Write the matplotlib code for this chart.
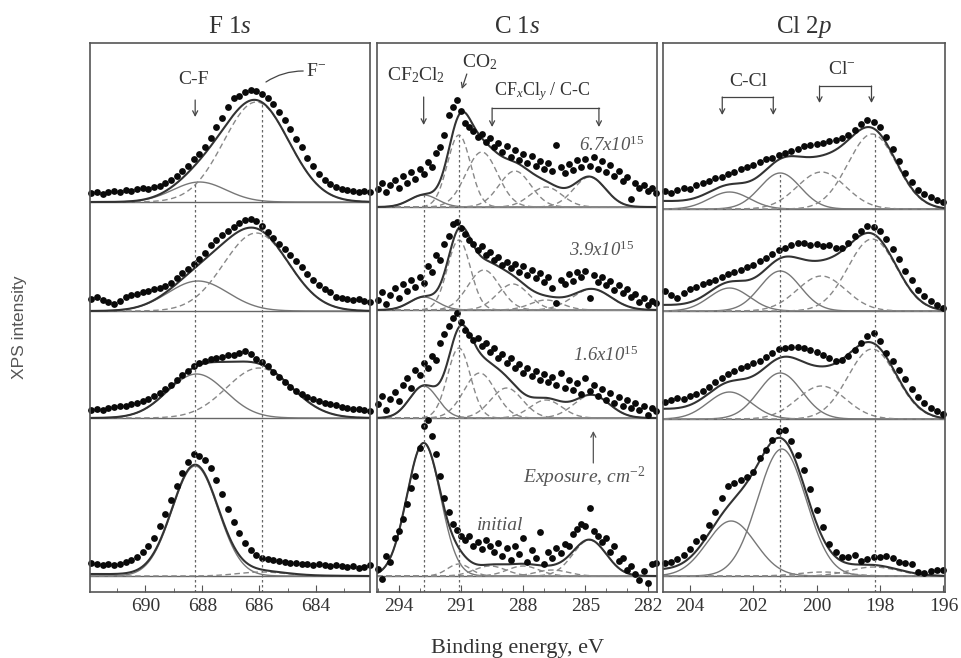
import numpy as np
import matplotlib.pyplot as plt

plt.rcParams['font.family'] = ['Liberation Serif', 'DejaVu Serif']
plt.rcParams['mathtext.fontset'] = 'custom'
plt.rcParams['mathtext.rm'] = 'Liberation Serif'
plt.rcParams['mathtext.it'] = 'Liberation Serif:italic'
plt.rcParams['mathtext.bf'] = 'Liberation Serif:bold'

# ---------------- data (intensity above each spectrum's baseline, arb. units) ----------------
exposures = ['6.7x10$^{15}$', '3.9x10$^{15}$', '1.6x10$^{15}$', 'initial']

# F 1s
f_energy = np.linspace(691.9, 682.1, 50)
f_counts = [
    [9, 10, 8, 10, 11, 10, 12, 11, 13, 14, 13, 15, 16, 19, 22, 26, 31, 36, 43, 48,
     55, 64, 75, 84, 95, 104, 106, 110, 112, 111, 108, 104, 98, 90, 82, 73, 63, 55, 44, 36,
     28, 22, 18, 15, 13, 12, 11, 10, 11, 10],
    [12, 14, 11, 9, 7, 10, 14, 16, 17, 19, 20, 22, 23, 25, 28, 33, 38, 42, 47, 52,
     58, 66, 71, 76, 80, 84, 88, 91, 92, 90, 85, 79, 73, 67, 62, 56, 50, 44, 37, 31,
     26, 22, 19, 14, 13, 12, 11, 12, 10, 9],
    [8, 9, 8, 10, 11, 12, 12, 14, 15, 17, 19, 22, 25, 29, 33, 38, 43, 47, 52, 55,
     57, 59, 60, 61, 63, 63, 65, 67, 64, 59, 56, 52, 46, 41, 36, 31, 27, 24, 21, 19,
     17, 15, 14, 13, 11, 10, 9, 9, 8, 7],
    [13, 12, 11, 12, 11, 12, 14, 16, 19, 24, 30, 38, 50, 62, 76, 90, 103, 114, 122, 120,
     116, 108, 96, 82, 67, 54, 43, 33, 26, 21, 18, 17, 16, 15, 14, 13, 13, 12, 12, 11,
     12, 11, 10, 11, 10, 9, 10, 8, 9, 11],
]
f_solid = [True, False]                 # C-F, F-
f_centers = [[688.1, 686.1], [688.15, 686.1], [688.2, 686.0], [688.25, 685.9]]
f_fwhm = [[2.2, 2.7], [2.5, 2.7], [2.4, 2.7], [1.9, 2.0]]
f_heights = [[20, 100], [30, 78], [44, 50], [110, 4]]
f_bg = [0, 0, 0, 2]
f_marks = [688.25, 685.9]

# C 1s
c_energy = np.linspace(295.0, 281.6, 68)
c_counts = [
    [18, 24, 15, 22, 27, 19, 31, 24, 35, 28, 38, 33, 45, 40, 54, 60, 72, 92, 100, 107,
     96, 84, 80, 76, 70, 73, 65, 69, 60, 64, 55, 61, 50, 57, 47, 53, 44, 51, 41, 46,
     38, 44, 36, 62, 40, 34, 43, 37, 47, 40, 48, 41, 50, 38, 46, 35, 42, 31, 36, 26,
     30, 8, 24, 19, 22, 16, 19, 14],
    [10, 18, 6, 15, 22, 12, 26, 19, 30, 23, 33, 27, 44, 38, 55, 50, 66, 74, 86, 88,
     82, 76, 70, 66, 60, 64, 55, 58, 50, 53, 45, 48, 42, 46, 38, 44, 35, 40, 32, 37,
     28, 33, 22, 7, 30, 26, 36, 29, 38, 33, 39, 12, 35, 28, 33, 25, 29, 20, 25, 17,
     21, 13, 16, 8, 12, 5, 9, 7],
    [14, 22, 8, 19, 26, 17, 33, 40, 30, 48, 43, 55, 50, 62, 58, 75, 84, 92, 100, 105,
     96, 88, 83, 78, 80, 72, 75, 66, 70, 60, 64, 55, 60, 50, 54, 45, 50, 42, 47, 38,
     44, 36, 41, 33, 45, 30, 38, 28, 35, 24, 40, 27, 33, 22, 29, 18, 25, 15, 21, 12,
     18, 10, 15, 8, 12, 3, 10, 7],
    [7, -3, 20, 14, 38, 45, 57, 72, 88, 100, 128, 150, 156, 140, 122, 100, 78, 64, 52, 46,
     40, 36, 40, 30, 34, 27, 36, 30, 24, 33, 20, 28, 16, 30, 22, 38, 14, 26, 18, 44,
     12, 24, 18, 28, 23, 32, 30, 42, 47, 52, 50, 68, 45, 40, 34, 38, 24, 30, 15, 18,
     6, 10, 2, -4, 5, -7, 12, 13],
]
c_solid = [True, False, False, False, False, False]   # CF2Cl2, CO2, CFxCly / C-C
c_centers = [[292.8, 291.1, 290.0, 288.4, 286.9, 284.8],
             [292.8, 291.1, 289.9, 288.5, 286.9, 284.7],
             [292.8, 291.1, 290.1, 288.8, 286.9, 284.7],
             [292.8, 291.1, 289.6, 288.0, 286.6, 284.8]]
c_fwhm = [[1.6, 1.3, 1.8, 1.8, 1.8, 1.8],
          [1.6, 1.3, 1.8, 1.8, 1.8, 2.2],
          [1.6, 1.3, 1.8, 1.8, 1.8, 2.0],
          [1.9, 1.3, 1.8, 1.8, 1.8, 1.9]]
c_heights = [[12, 72, 55, 36, 20, 30],
             [13, 70, 40, 26, 10, 21],
             [32, 70, 45, 30, 18, 23],
             [133, 12, 10, 10, 6, 36]]
c_bg = [0, 0, 0, 0]
c_marks = [292.8, 291.1]

# Cl 2p
cl_energy = np.linspace(204.8, 196.0, 45)
cl_counts = [
    [18, 16, 19, 21, 20, 24, 26, 28, 31, 32, 35, 37, 40, 42, 44, 47, 50, 51, 54, 56,
     58, 60, 63, 64, 65, 66, 68, 69, 71, 74, 79, 85, 89, 87, 82, 72, 60, 48, 36, 27,
     19, 15, 12, 9, 7],
    [20, 16, 13, 18, 22, 24, 27, 29, 31, 34, 37, 39, 41, 44, 46, 50, 53, 57, 61, 63,
     66, 68, 68, 66, 67, 65, 66, 63, 63, 68, 75, 80, 85, 84, 80, 72, 62, 52, 40, 31,
     21, 15, 10, 6, 3],
    [17, 19, 21, 20, 23, 25, 28, 32, 37, 41, 45, 48, 51, 53, 56, 58, 62, 66, 70, 71,
     72, 72, 71, 69, 67, 64, 61, 58, 59, 63, 69, 76, 83, 86, 78, 66, 58, 49, 40, 30,
     22, 16, 11, 8, 5],
    [13, 14, 17, 21, 27, 35, 39, 51, 64, 78, 90, 93, 96, 99, 104, 118, 126, 136, 145, 146,
     135, 121, 106, 87, 66, 49, 32, 24, 19, 19, 21, 15, 17, 19, 19, 20, 18, 14, 13, 12,
     4, 3, 5, 6, 6],
]
cl_solid = [True, True, False, False]   # C-Cl 2p1/2, 2p3/2, Cl- 2p1/2, 2p3/2
cl_centers = [[202.75, 201.15, 199.85, 198.25],
              [202.75, 201.15, 199.85, 198.25],
              [202.75, 201.15, 199.85, 198.25],
              [202.7, 201.1, 199.8, 198.2]]
cl_fwhm = [[1.5, 1.5, 1.8, 1.8],
           [1.5, 1.5, 1.8, 1.8],
           [1.6, 1.6, 1.8, 1.8],
           [1.8, 1.8, 1.8, 1.8]]
cl_heights = [[17, 36, 37, 75],
              [23, 40, 35, 72],
              [27, 46, 33, 70],
              [55, 127, 4, 9]]
cl_bg = [8, 6, 10, 6]
cl_marks = [201.15, 198.15]

# ---------------- layout ----------------
W, H = 961, 658
FRAME_BOTTOM, FRAME_TOP = 592, 43
panel_left = [90, 377, 663]
panel_width = [280, 280, 282]
row_offsets = [[390, 281, 174, 16], [385, 282, 174, 16], [383, 281, 173, 16]]
TEXT_C = '#333333'
FRAME_C = '#555555'


def gauss(e, center, fwhm, height):
    return height * np.exp(-4 * np.log(2) * (e - center) ** 2 / fwhm ** 2)


def draw_panel(ax, energy, counts, centers, fwhms, heights, solid, bgs, marks,
               mark_comp, xlim, offsets):
    e_fine = np.linspace(xlim[0], xlim[1], 600)
    for i, off in enumerate(offsets):
        ax.plot(xlim, [off, off], color='#666666', lw=1.0)
        total = bgs[i] * (e_fine - xlim[1]) / (xlim[0] - xlim[1])
        for c, w, h, s in zip(centers[i], fwhms[i], heights[i], solid):
            comp = gauss(e_fine, c, w, h)
            total = total + comp
            if s:
                ax.plot(e_fine, off + comp, color='#777777', lw=1.0)
            else:
                ax.plot(e_fine, off + comp, color='#888888', lw=1.0, ls=(0, (4, 2.5)))
        ax.plot(e_fine, off + total, color='#333333', lw=1.5)
        ax.plot(energy, off + np.array(counts[i]), 'o', ms=4.9, color='#0a0a0a',
                mew=0, clip_on=False)
    for x, k in zip(marks, mark_comp):
        ax.plot([x, x], [0, offsets[0] + heights[0][k]], color='#666666', lw=0.9,
                ls=(0, (2, 2)))
    ax.set_xlim(*xlim)
    ax.set_ylim(0, FRAME_BOTTOM - FRAME_TOP)
    ax.set_yticks([])
    for sp in ax.spines.values():
        sp.set_color(FRAME_C)
        sp.set_linewidth(1.2)
    ax.tick_params(axis='x', which='both', direction='in', colors=FRAME_C,
                   labelcolor=TEXT_C, labelsize=14, pad=4)
    ax.tick_params(axis='x', which='major', length=5)
    ax.tick_params(axis='x', which='minor', length=3)


def arrow(ax, x, y_tail, y_tip):
    ax.annotate('', xy=(x, y_tip), xytext=(x, y_tail),
                arrowprops=dict(arrowstyle='->,head_length=0.35,head_width=0.18',
                                color='#444444', lw=0.9, shrinkA=0, shrinkB=0))


def bracket(ax, x1, x2, y_bar, y_tip):
    ax.plot([x1, x2], [y_bar, y_bar], color='#444444', lw=0.9)
    arrow(ax, x1, y_bar, y_tip)
    arrow(ax, x2, y_bar, y_tip)


fig = plt.figure(figsize=(W / 100, H / 100), dpi=100)
axes = []
for k in range(3):
    axes.append(fig.add_axes([panel_left[k] / W, (H - FRAME_BOTTOM) / H,
                              panel_width[k] / W, (FRAME_BOTTOM - FRAME_TOP) / H]))
ax_f, ax_c, ax_cl = axes

draw_panel(ax_f, f_energy, f_counts, f_centers, f_fwhm, f_heights, f_solid, f_bg,
           f_marks, [0, 1], (691.95, 682.1), row_offsets[0])
ax_f.set_xticks([690, 688, 686, 684])
ax_f.set_xticks(np.arange(683, 692), minor=True)

draw_panel(ax_c, c_energy, c_counts, c_centers, c_fwhm, c_heights, c_solid, c_bg,
           c_marks, [0, 1], (295.05, 281.55), row_offsets[1])
ax_c.set_xticks([294, 291, 288, 285, 282])
ax_c.set_xticks(np.arange(282, 296), minor=True)

draw_panel(ax_cl, cl_energy, cl_counts, cl_centers, cl_fwhm, cl_heights, cl_solid,
           cl_bg, cl_marks, [1, 3], (204.85, 195.95), row_offsets[2])
ax_cl.set_xticks([204, 202, 200, 198, 196])
ax_cl.set_xticks(np.arange(196, 205), minor=True)

# titles
for ax, t in zip(axes, ['F $\\mathit{1s}$', 'C $\\mathit{1s}$', 'Cl $\\mathit{2p}$']):
    ax.text(0.5, 1 + 16 / 549, t, transform=ax.transAxes, ha='center', va='center',
            fontsize=18, color=TEXT_C)

# F 1s labels
ax_f.text(688.3, 512, 'C-F', ha='center', va='center', fontsize=14, color=TEXT_C)
arrow(ax_f, 688.25, 492, 475)
ax_f.text(684.0, 521, 'F$^{-}$', ha='center', va='center', fontsize=14, color=TEXT_C)
ax_f.annotate('', xy=(685.76, 510), xytext=(684.45, 521),
              arrowprops=dict(arrowstyle='-', color='#444444', lw=0.9,
                              connectionstyle='arc3,rad=0.15', shrinkA=0, shrinkB=0))

# C 1s labels
ax_c.text(293.15, 517, 'CF$_2$Cl$_2$', ha='center', va='center', fontsize=14, color=TEXT_C)
arrow(ax_c, 292.8, 495, 467)
ax_c.text(290.1, 530, 'CO$_2$', ha='center', va='center', fontsize=14, color=TEXT_C)
ax_c.annotate('', xy=(290.96, 503), xytext=(290.72, 518),
              arrowprops=dict(arrowstyle='->,head_length=0.35,head_width=0.18',
                              color='#444444', lw=0.9, shrinkA=0, shrinkB=0))
ax_c.text(287.1, 500, 'CF$_x$Cl$_y$ / C-C', ha='center', va='center', fontsize=13,
          color=TEXT_C)
bracket(ax_c, 289.5, 284.35, 484, 465)

exp_y = [447, 342, 237]
exp_x = [283.75, 284.2, 284.05]
for x, y, t in zip(exp_x, exp_y, exposures[:3]):
    ax_c.text(x, y, t, ha='center', va='center', fontsize=13.5, color='#555555',
              style='italic')
ax_c.text(289.1, 66, exposures[3], ha='center', va='center', fontsize=14,
          color='#555555', style='italic')
ax_c.annotate('', xy=(284.62, 161), xytext=(284.62, 129),
              arrowprops=dict(arrowstyle='->,head_length=0.35,head_width=0.18',
                              color='#555555', lw=0.9, shrinkA=0, shrinkB=0))
ax_c.text(285.05, 115, 'Exposure, cm$^{-2}$', ha='center', va='center', fontsize=14,
          color='#555555', style='italic')

# Cl 2p labels
ax_cl.text(202.15, 510, 'C-Cl', ha='center', va='center', fontsize=14, color=TEXT_C)
bracket(ax_cl, 202.98, 201.37, 495, 477)
ax_cl.text(199.2, 522, 'Cl$^{-}$', ha='center', va='center', fontsize=14, color=TEXT_C)
bracket(ax_cl, 199.91, 198.27, 506, 489)

fig.text(518 / W, 1 - 648 / H, 'Binding energy, eV', ha='center', va='center',
         fontsize=16, color=TEXT_C)
fig.text(20 / W, 1 - 327 / H, 'XPS intensity', ha='center', va='center', rotation=90,
         fontsize=12.5, color='#555555', family=['Liberation Sans', 'DejaVu Sans'])

fig.savefig('out.png', dpi=100)
